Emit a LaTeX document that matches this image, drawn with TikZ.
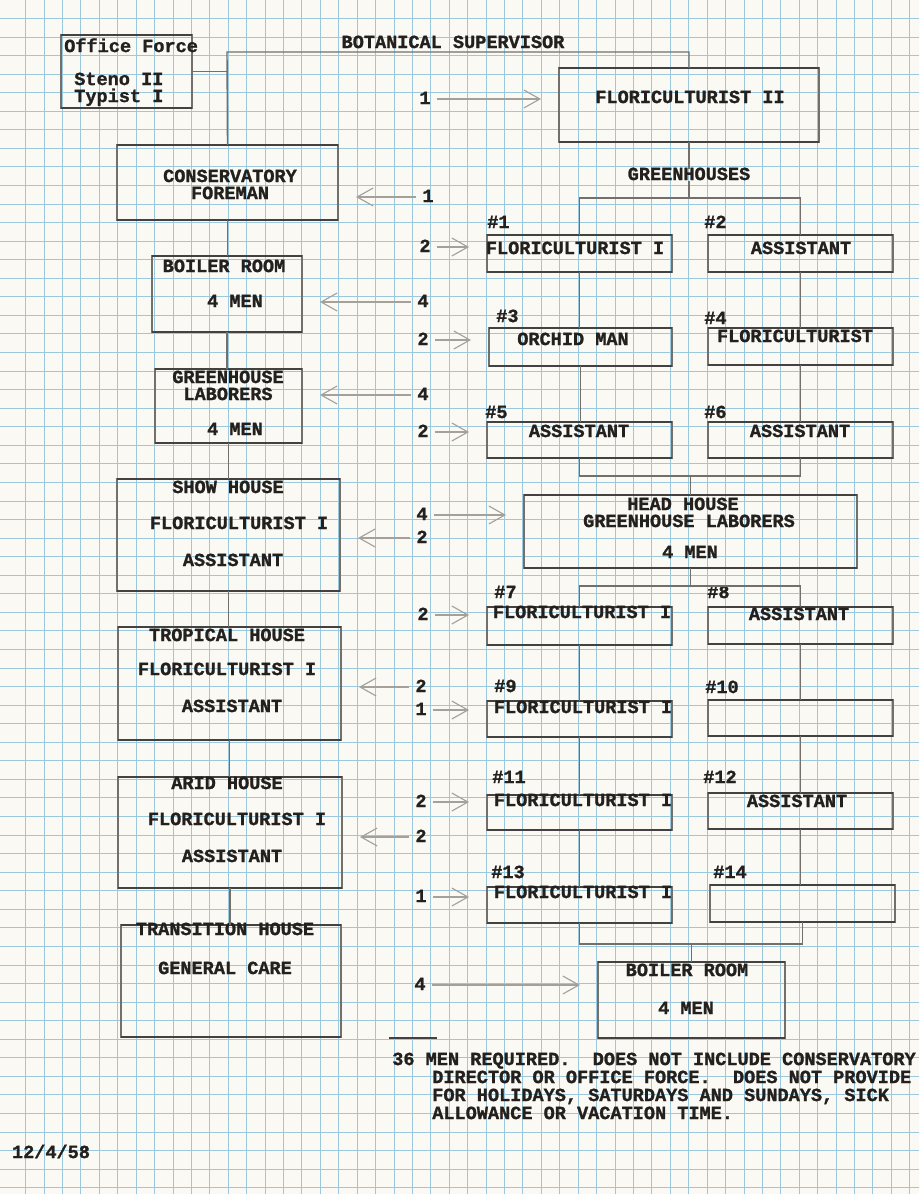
\documentclass[tikz,border=0pt]{standalone}
\usepackage{fontspec}
\setmonofont{Liberation Mono}[BoldFeatures={FakeBold=1.2}]
\usetikzlibrary{arrows.meta}
\definecolor{paper}{RGB}{250,249,243}
\definecolor{gridblue}{RGB}{155,200,220}
\definecolor{ink}{RGB}{35,32,30}
\definecolor{pencil}{RGB}{115,112,108}
\definecolor{lightpencil}{RGB}{165,160,154}
\def\pu{0.025cm}
\tikzset{
  gridline/.style={gridblue,line width=.5pt},
  box/.style 2 args={draw=pencil,line width=.8pt,minimum width=#1*\pu,minimum height=#2*\pu,inner sep=0pt,outer sep=0pt},
  rule/.style={ink!85,line width=1.6pt},
  link/.style={pencil,line width=1pt},
  txt/.style={text=ink,inner sep=0pt,text height=7.6pt,text depth=.4pt},
  feed/.style={lightpencil,line width=.8pt,-{Straight Barb[length=4mm,width=4.5mm]},shorten <=1.5mm,shorten >=4.5mm},
}
\begin{document}
\frenchspacing
\begin{tikzpicture}[x=\pu,y=-\pu,font=\ttfamily\bfseries\fontsize{13.2}{15}\selectfont]
\fill[paper] (0,0) rectangle (919,1194);
\useasboundingbox (0,0) rectangle (919,1194);
% graph paper
\foreach \i in {0,...,48} \draw[gridline] ({25.5+\i*18.42},0) -- ++(0,1194);
\foreach \j in {0,...,63} \draw[gridline] (0,{18.3+\j*18.56}) -- ++(919,0);
% boxes
\node[box={131}{73}] (office) at (126.5,71.5) {};
\node[box={260}{74}] (fl2) at (689,105) {};
\node[box={221}{75}] (fore) at (227.5,182.5) {};
\node[box={150}{76}] (boil) at (227,294) {};
\node[box={147}{74}] (lab) at (228.5,406) {};
\node[box={223}{112}] (show) at (228.5,535) {};
\node[box={223}{113}] (trop) at (229.5,683.5) {};
\node[box={224}{111}] (arid) at (230,832.5) {};
\node[box={220}{112}] (trans) at (231,981) {};
\node[box={185}{37}] (g1) at (579.5,253.5) {};
\node[box={185}{37}] (g2) at (800.5,253.5) {};
\node[box={183}{38}] (g3) at (580.5,347) {};
\node[box={185}{37}] (g4) at (800.5,346.5) {};
\node[box={185}{36}] (g5) at (579.5,440) {};
\node[box={185}{36}] (g6) at (800.5,440) {};
\node[box={333}{73}] (hh) at (690.5,531.5) {};
\node[box={185}{38}] (g7) at (579.5,626) {};
\node[box={185}{37}] (g8) at (800.5,625.5) {};
\node[box={185}{36}] (g9) at (579.5,719) {};
\node[box={185}{36}] (g10) at (800.5,718) {};
\node[box={185}{35}] (g11) at (579.5,812.5) {};
\node[box={185}{36}] (g12) at (800.5,811) {};
\node[box={185}{36}] (g13) at (579.5,905) {};
\node[box={185}{37}] (g14) at (802.5,903.5) {};
\node[box={187}{76}] (br) at (691.5,1000) {};
\foreach \b in {office,fl2,fore,boil,lab,show,trop,arid,trans,g1,g2,g3,g4,g5,g6,hh,g7,g8,g9,g10,g11,g12,g13,g14,br}
  \draw[rule] (\b.north west) -- (\b.north east) (\b.south west) -- (\b.south east);
% texts
\node[txt,anchor=west] (office-t1) at (64,47) {Office Force};
\node[txt,anchor=west] (office-t2) at (74,80) {Steno II};
\node[txt,anchor=west] (office-t3) at (74,97) {Typist I};
\node[txt] (sup) at (453,43) {BOTANICAL SUPERVISOR};
\node[txt] (fl2-t) at (690,98) {FLORICULTURIST II};
\node[txt] (gh) at (689,175) {GREENHOUSES};
\node[txt] (fore-t1) at (230,177) {CONSERVATORY};
\node[txt] (fore-t2) at (230,194) {FOREMAN};
\node[txt] (boil-t1) at (224,267) {BOILER ROOM};
\node[txt] (boil-t2) at (235,302) {4 MEN};
\node[txt] (lab-t1) at (228,378) {GREENHOUSE};
\node[txt] (lab-t2) at (228,395) {LABORERS};
\node[txt] (lab-t3) at (235,430) {4 MEN};
\node[txt] (show-t1) at (228,488) {SHOW HOUSE};
\node[txt] (show-t2) at (239,524) {FLORICULTURIST I};
\node[txt] (show-t3) at (233,561) {ASSISTANT};
\node[txt] (trop-t1) at (227,636) {TROPICAL HOUSE};
\node[txt] (trop-t2) at (227,670) {FLORICULTURIST I};
\node[txt] (trop-t3) at (232,707) {ASSISTANT};
\node[txt] (arid-t1) at (227,784) {ARID HOUSE};
\node[txt] (arid-t2) at (237,820) {FLORICULTURIST I};
\node[txt] (arid-t3) at (232,857) {ASSISTANT};
\node[txt] (trans-t1) at (225,930) {TRANSITION HOUSE};
\node[txt] (trans-t2) at (225,969) {GENERAL CARE};
\node[txt] (g1-t) at (575,249) {FLORICULTURIST I};
\node[txt] (g2-t) at (801,249) {ASSISTANT};
\node[txt] (g3-t) at (573,340) {ORCHID MAN};
\node[txt] (g4-t) at (795,337) {FLORICULTURIST};
\node[txt] (g5-t) at (579,432) {ASSISTANT};
\node[txt] (g6-t) at (800,432) {ASSISTANT};
\node[txt] (hh-t1) at (683,505) {HEAD HOUSE};
\node[txt] (hh-t2) at (689,522) {GREENHOUSE LABORERS};
\node[txt] (hh-t3) at (690,553) {4 MEN};
\node[txt] (g7-t) at (582,613) {FLORICULTURIST I};
\node[txt] (g8-t) at (799,615) {ASSISTANT};
\node[txt] (g9-t) at (583,708) {FLORICULTURIST I};
\node[txt] (g11-t) at (583,801) {FLORICULTURIST I};
\node[txt] (g12-t) at (797,802) {ASSISTANT};
\node[txt] (g13-t) at (583,893) {FLORICULTURIST I};
\node[txt] (br-t1) at (687,971) {BOILER ROOM};
\node[txt] (br-t2) at (686,1009) {4 MEN};
\foreach \n/\x/\y in {1/487/223,2/704/223,3/496/317,4/704/319,5/485/413,6/704/413,7/494/593,8/707/593,9/494/687,10/705/688,11/492/778,12/703/778,13/491/873,14/713/873}
  \node[txt,anchor=west] (h\n) at (\x,\y) {\#\n};
% chart lines
\coordinate (supl) at (227,52);
\coordinate (supr) at (689,52);
\draw[link] (fore.north) -- (supl) -- (supr) -- (fl2.north);
\draw[link] (office.east) -- (office.east -| supl);
\draw[link] (fl2.south) -- (gh.north);
\coordinate (ghbar) at (689,198);
\draw[link] (gh.south) -- (ghbar);
\draw[link] (g1.north) |- (ghbar) -| (g2.north);
\foreach \a/\b in {fore/boil,boil/lab,lab/show,show/trop,trop/arid,arid/trans,g1/g3,g3/g5,g2/g4,g4/g6,g7/g9,g9/g11,g11/g13,g8/g10,g10/g12,g12/g14}
  \draw[link] (\a.south) -- (\a.south |- \b.north);
\coordinate (j1) at (690.5,476);
\draw[link] (g5.south) |- (j1) -| (g6.south);
\draw[link] (j1) -- (hh.north);
\coordinate (j2) at (690.5,586);
\draw[link] (hh.south) -- (j2);
\draw[link] (g7.north) |- (j2) -| (g8.north);
\coordinate (j3) at (691.5,944);
\draw[link] (g13.south) |- (j3) -| (g14.south);
\draw[link] (j3) -- (br.north);
% staffing arrows
\foreach \t/\v/\x/\y in {fl2/1/425/99,g1/2/425/247,g3/2/423/340,g5/2/423/432,hh/4/422/515,g7/2/423/615,g9/1/421/710,g11/2/421/802,g13/1/421/897,br/4/420/985} {
  \node[txt] (n\t) at (\x,\y) {\v};
  \draw[feed] (n\t.east) -- (n\t.east -| \t.west);
}
\foreach \t/\v/\x/\y in {fore/1/428/197,boil/4/423/302,lab/4/423/395,show/2/422/538,trop/2/421/687,arid/2/421/837} {
  \node[txt] (n\t) at (\x,\y) {\v};
  \draw[feed] (n\t.west) -- (n\t.west -| \t.east);
}
% total and note
\draw[rule] (389,1038) -- (437,1038);
\node[txt,anchor=west] (note1) at (392,1060) {36 MEN REQUIRED.\ \ DOES NOT INCLUDE CONSERVATORY};
\node[txt,anchor=west] (note2) at (432,1078) {DIRECTOR OR OFFICE FORCE.\ \ DOES NOT PROVIDE};
\node[txt,anchor=west] (note3) at (432,1096) {FOR HOLIDAYS, SATURDAYS AND SUNDAYS, SICK};
\node[txt,anchor=west] (note4) at (432,1114) {ALLOWANCE OR VACATION TIME.};
\node[txt] (date) at (51,1153) {12/4/58};
\end{tikzpicture}
\end{document}
